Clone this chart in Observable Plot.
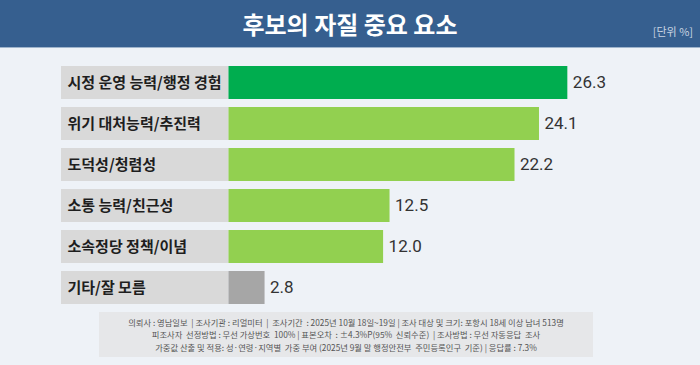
<!DOCTYPE html>
<html>
<head>
<meta charset="utf-8">
<script src="https://cdn.jsdelivr.net/npm/d3@7"></script>
<script src="https://cdn.jsdelivr.net/npm/@observablehq/plot@0.6"></script>
<style>
  html, body { margin: 0; padding: 0; }
  body { width: 700px; height: 365px; background: #EEF2F7; font-family: "Noto Sans CJK KR", "Noto Sans", sans-serif; position: relative; overflow: hidden; }
  #title { position: relative; height: 48px; background: #365F8F; border-bottom: 1px solid #9FB4CC; box-sizing: border-box; }
  #title h1 { margin: 0; text-align: center; color: #fff; font-size: 24px; font-weight: 700; line-height: 47px; }
  #unit { position: absolute; right: 7px; top: 23px; color: #C9D4E2; font-size: 11px; }
  #chart { position: absolute; left: 0; top: 48px; }
  #footer { position: absolute; left: 99px; top: 312px; width: 494px; height: 45px; background: #E6E7E9; color: #555; font-size: 8.3px; text-align: center; line-height: 12.3px; padding-top: 4px; box-sizing: border-box; }
</style>
</head>
<body>
<div id="title"><h1>후보의 자질 중요 요소</h1><span id="unit">[단위 %]</span></div>
<div id="chart"></div>
<div id="footer">
  <div>의뢰사 : 영남일보 &nbsp;| 조사기관 : 리얼미터 &nbsp;| &nbsp;조사기간 &nbsp;: 2025년 10월 18일~19일 | 조사 대상 및 크기: 포항시 18세 이상 남녀 513명</div>
  <div>피조사자 &nbsp;선정방법 : 무선 가상번호 &nbsp;100% | 표본오차 &nbsp;: ±4.3%P(95% &nbsp;신뢰수준) &nbsp;| 조사방법 : 무선 자동응답 &nbsp;조사</div>
  <div>가중값 산출 및 적용: 성·연령·지역별 &nbsp;가중 부여 (2025년 9월 말 행정안전부 &nbsp;주민등록인구 &nbsp;기준) | 응답률 : 7.3%</div>
</div>
<script>
const categories = ["시정 운영 능력/행정 경험", "위기 대처능력/추진력", "도덕성/청렴성", "소통 능력/친근성", "소속정당 정책/이념", "기타/잘 모름"];
const values = [26.3, 24.1, 22.2, 12.5, 12.0, 2.8];
const barColors = ["#00AD4F", "#92D050", "#92D050", "#92D050", "#92D050", "#A6A6A6"];

const data = categories.map((c, i) => ({category: c, value: values[i], color: barColors[i]}));
const labelStart = -13;

const chart = Plot.plot({
  width: 700,
  height: 260,
  marginLeft: 61,
  marginRight: 85,
  marginTop: 14,
  marginBottom: 0,
  x: {domain: [labelStart, 30], axis: null},
  y: {domain: categories, axis: null, paddingInner: 0.2, paddingOuter: 0.1},
  style: {background: "transparent", overflow: "visible"},
  marks: [
    Plot.barX(data, {y: "category", x1: () => labelStart, x2: () => 0, fill: "#D9D9D9"}),
    Plot.barX(data, {y: "category", x1: () => 0, x2: "value", fill: "color"}),
    Plot.text(data, {y: "category", x: () => labelStart, text: "category", textAnchor: "start", dx: 6, fill: "#1E1E1E", fontSize: 15, fontWeight: 700, fontFamily: "Noto Sans CJK KR"}),
    Plot.text(data, {y: "category", x: "value", text: d => d.value.toFixed(1), textAnchor: "start", dx: 5, fill: "#333", fontSize: 17, fontFamily: "Roboto"})
  ]
});
document.getElementById("chart").appendChild(chart);
</script>
</body>
</html>
